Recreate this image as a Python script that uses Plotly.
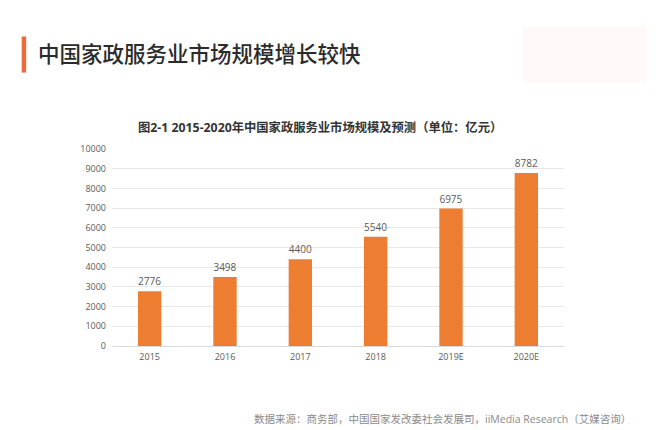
import plotly.graph_objects as go

years = ["2015", "2016", "2017", "2018", "2019E", "2020E"]
values = [2776, 3498, 4400, 5540, 6975, 8782]
y_ticks = [0, 1000, 2000, 3000, 4000, 5000, 6000, 7000, 8000, 9000, 10000]

heading = "中国家政服务业市场规模增长较快"
chart_title = "图2-1 2015-2020年中国家政服务业市场规模及预测（单位：亿元）"
source = "数据来源：商务部，中国国家发改委社会发展司，iiMedia Research（艾媒咨询）"

FONT = "Open Sans, Noto Sans CJK SC, sans-serif"
CJK = "Noto Sans CJK SC, sans-serif"

# page body has an 8px margin; figure drawn at (8, 8)
OFF = 8
W, H = 660 - OFF, 430 - OFF
L, R, T, B = 112.3 - OFF, 660 - 564.3, 149.3 - OFF, 430 - 346

fig = go.Figure(go.Bar(
    x=years, y=values,
    marker=dict(color="#ED7D31", line=dict(width=0)),
    text=[str(v) for v in values],
    textposition="outside",
    textfont=dict(family=FONT, size=10, color="#595959"),
    cliponaxis=False,
))

fig.update_layout(
    width=W, height=H,
    paper_bgcolor="white", plot_bgcolor="white",
    margin=dict(l=L, r=R, t=T, b=B, autoexpand=False),
    bargap=0.69,
    showlegend=False,
    font=dict(family=FONT, color="#595959"),
    xaxis=dict(
        type="category", showgrid=False, showline=False, zeroline=False,
        ticks="", tickfont=dict(family=FONT, size=9, color="#595959"),
        ticklabelstandoff=4,
    ),
    yaxis=dict(
        range=[0, 10000], tickvals=y_ticks, tickformat="d",
        showgrid=True, gridcolor="#e8e8e8",
        gridwidth=1, zeroline=True, zerolinecolor="#d9d9d9", zerolinewidth=1,
        showline=False, ticks="", tickfont=dict(family=FONT, size=9, color="#595959"),
        ticklabelstandoff=5,
    ),
)

pw = W - L - R
ph = H - T - B
def px(x):
    return (x - OFF - L) / pw
def py(y):
    return (H - B - (y - OFF)) / ph

fig.update_layout(shapes=[
    dict(type="rect", xref="paper", yref="paper", layer="below",
         x0=px(523), x1=px(647), y0=py(83), y1=py(27),
         fillcolor="#fff9f9", line=dict(width=0)),
    dict(type="rect", xref="paper", yref="paper", layer="below",
         x0=px(22), x1=px(26.5), y0=py(73), y1=py(37),
         fillcolor="#EA6B3C", line=dict(width=0)),
])

fig.add_annotation(text=heading, xref="paper", yref="paper",
                   x=px(36), y=py(53), xanchor="left", yanchor="middle",
                   showarrow=False,
                   font=dict(family=CJK, size=21.5, color="#2b2b2b", weight=500))
fig.add_annotation(text="<b>" + chart_title + "</b>", xref="paper", yref="paper",
                   x=px(320), y=py(128), xanchor="center", yanchor="middle",
                   showarrow=False, font=dict(family=FONT, size=12.3, color="#333333"))
fig.add_annotation(text=source, xref="paper", yref="paper",
                   x=px(633), y=py(419), xanchor="right", yanchor="middle",
                   showarrow=False, font=dict(family=FONT, size=10.5, color="#8a8a8a"))

fig.write_html("out.html")
